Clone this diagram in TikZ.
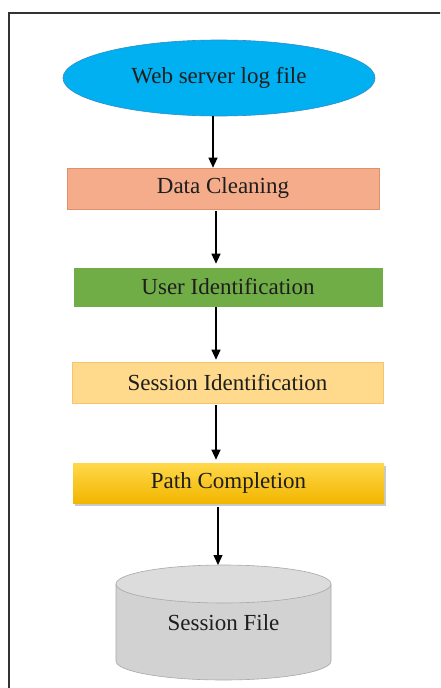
\documentclass[tikz,border=0pt]{standalone}
\usepackage{fontspec}
\setmainfont{Liberation Serif}
\usetikzlibrary{shapes.geometric,arrows.meta,shadows}
\definecolor{txt}{HTML}{1E1E1E}
\definecolor{ellfill}{HTML}{00B0F0}
\definecolor{elldraw}{HTML}{2E8BC8}
\definecolor{dcfill}{HTML}{F5AC8A}
\definecolor{dcdraw}{HTML}{E0906A}
\definecolor{uifill}{HTML}{70AD47}
\definecolor{sifill}{HTML}{FFD98C}
\definecolor{sidraw}{HTML}{F7C46A}
\definecolor{pctop}{HTML}{FFD84A}
\definecolor{pcbot}{HTML}{F2B600}
\definecolor{cylfill}{HTML}{D2D2D2}
\definecolor{cyltopc}{HTML}{DCDCDC}
\definecolor{cyldraw}{HTML}{A8A8A8}
\tikzset{
  lbl/.style={font=\fontsize{23}{26}\selectfont, text=txt},
  stepbox/.style={lbl, rectangle, minimum width=311pt, minimum height=40pt, inner sep=0pt, line width=0.6pt},
  arr/.style={line width=1.3pt, -{Triangle[width=9pt,length=10pt]}, black},
}
\begin{document}
\begin{tikzpicture}[x=1pt,y=1pt]
\useasboundingbox (0,0) rectangle (440,-688);
\clip (0,0) rectangle (440,-688);
\fill[white] (0,0) rectangle (440,-688);
% frame
\draw[line width=1.3pt, black!80] (9,-13) rectangle (470,-720);
% nodes
\node[lbl, ellipse, fill=ellfill, draw=elldraw, line width=0.6pt, minimum width=312pt, minimum height=76pt, inner sep=0pt] (e) at (219,-78) {Web server log file};
\node[stepbox, fill=dcfill, draw=dcdraw, minimum width=312pt, minimum height=41pt] (dc) at (223,-188.5) {Data Cleaning};
\node[stepbox, fill=uifill, draw=uifill, minimum width=308pt, minimum height=38pt] (ui) at (228,-287) {User Identification};
\node[stepbox, fill=sifill, draw=sidraw, minimum width=311pt, minimum height=41pt] (si) at (227.5,-382.5) {Session Identification};
\node[stepbox, top color=pctop, bottom color=pcbot, draw=none, drop shadow={shadow xshift=2pt, shadow yshift=-3pt, fill=black!35, opacity=0.6}] (pc) at (228.5,-483) {Path Completion};
% cylinder
\filldraw[fill=cylfill, draw=cyldraw, line width=0.6pt] (116,-584) -- (116,-661) arc[start angle=180, end angle=360, x radius=107.5, y radius=19] -- (331,-584) -- cycle;
\filldraw[fill=cyltopc, draw=cyldraw, line width=0.6pt] (223.5,-584) ellipse[x radius=107.5, y radius=19];
\coordinate (cyltop) at (218,-565);
\node[lbl] (sf) at (223.5,-623) {Session File};
% connectors
\draw[arr] ([xshift=-6pt]e.south) -- ([xshift=-10pt]dc.north);
\draw[arr] ([xshift=-7pt,yshift=-2pt]dc.south) -- ([xshift=-12pt,yshift=4pt]ui.north);
\draw[arr] ([xshift=-12pt,yshift=-1pt]ui.south) -- ([xshift=-11.5pt,yshift=2pt]si.north);
\draw[arr] ([xshift=-11.5pt,yshift=-2pt]si.south) -- ([xshift=-12.5pt,yshift=3pt]pc.north);
\draw[arr] ([xshift=-10.5pt,yshift=-4pt]pc.south) -- (cyltop);
\end{tikzpicture}
\end{document}
